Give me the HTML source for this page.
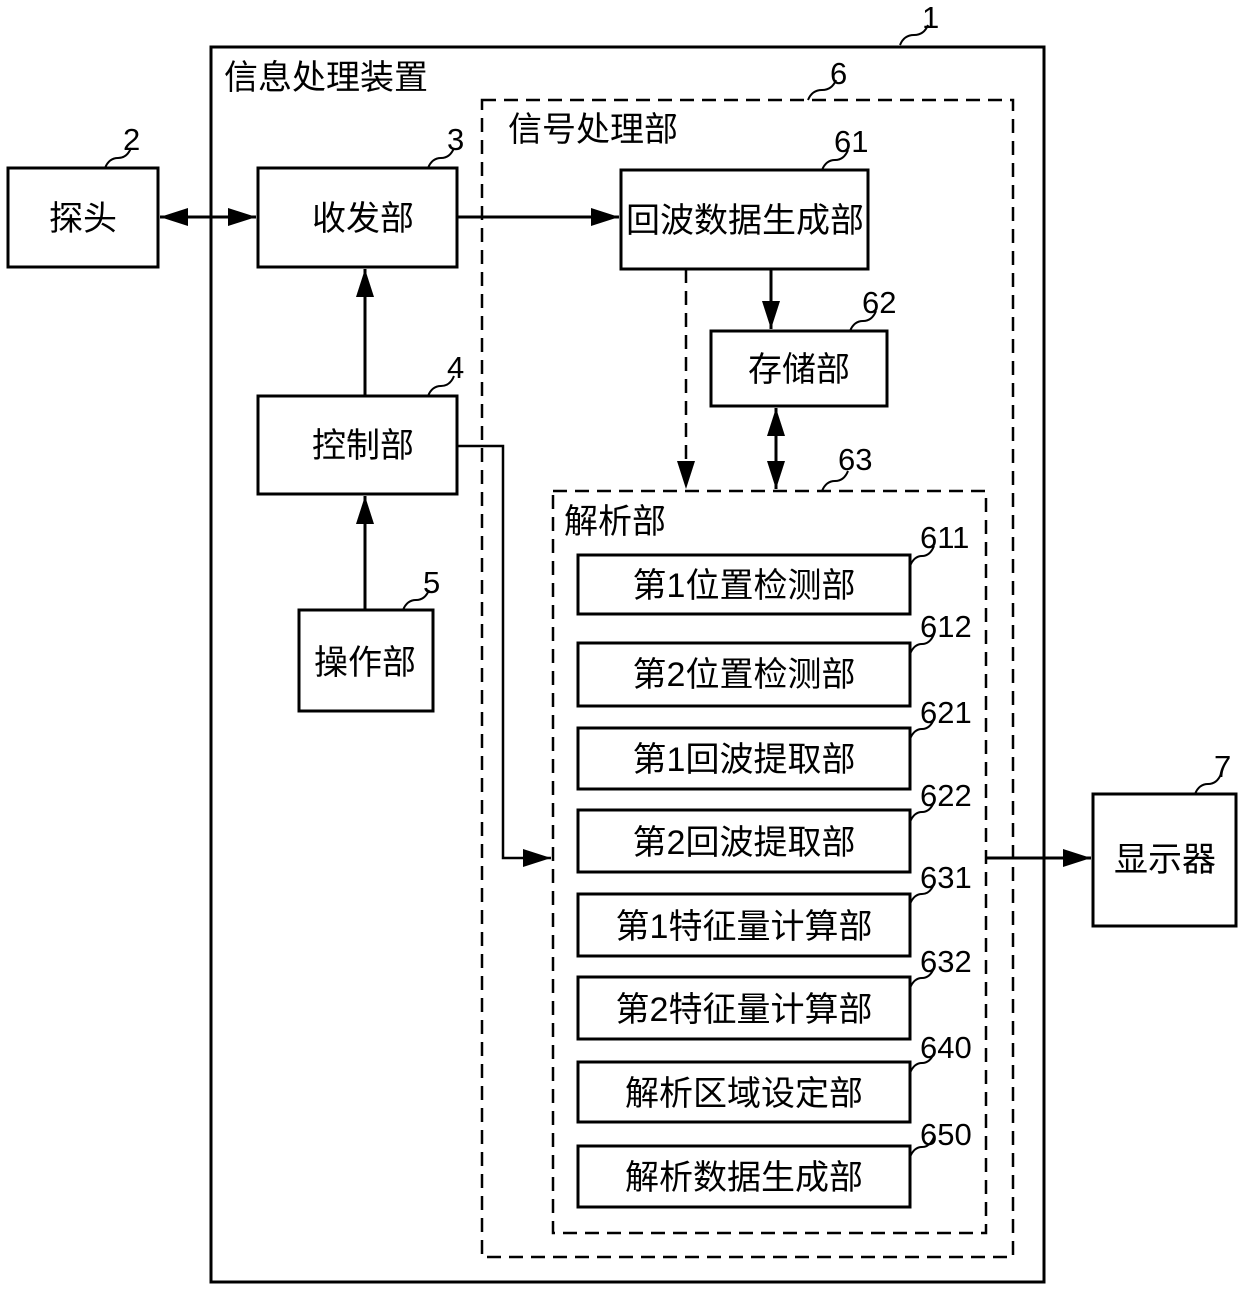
<!DOCTYPE html>
<html><head><meta charset="utf-8"><style>
body{margin:0;background:#fff}
svg text{font-family:"Liberation Sans","Noto Sans CJK SC",sans-serif;fill:#000}
</style></head><body>
<svg width="1240" height="1291" viewBox="0 0 1240 1291" xmlns="http://www.w3.org/2000/svg">
<defs>
<marker id="b" markerWidth="28" markerHeight="20" refX="28" refY="10" orient="auto-start-reverse" markerUnits="userSpaceOnUse" viewBox="0 0 28 20"><path d="M0,1 L28,10 L0,19z" fill="#000"/></marker></defs>
<g fill="none" stroke="#000" stroke-width="3">
<rect x="211" y="47" width="833" height="1235"/>
<rect x="482" y="100" width="531" height="1157" stroke-dasharray="14,8" stroke-width="2.5"/>
<rect x="553" y="491" width="433" height="742" stroke-dasharray="14,8" stroke-width="2.5"/>
<rect x="8" y="168" width="150" height="99"/>
<rect x="258" y="168" width="199" height="99"/>
<rect x="621" y="170" width="247" height="99"/>
<rect x="711" y="331" width="176" height="75"/>
<rect x="258" y="396" width="199" height="98"/>
<rect x="299" y="610" width="134" height="101"/>
<rect x="1093" y="794" width="143" height="132"/>
<rect x="578" y="555" width="332" height="59"/>
<rect x="578" y="643" width="332" height="63"/>
<rect x="578" y="728" width="332" height="61"/>
<rect x="578" y="810" width="332" height="62"/>
<rect x="578" y="894" width="332" height="62"/>
<rect x="578" y="977" width="332" height="62"/>
<rect x="578" y="1062" width="332" height="60"/>
<rect x="578" y="1146" width="332" height="61"/>
</g>
<g fill="none" stroke="#000" stroke-width="3">
<line x1="160" y1="217" x2="256" y2="217" marker-start="url(#b)" marker-end="url(#b)"/>
<line x1="457" y1="217" x2="619" y2="217" marker-end="url(#b)"/>
<line x1="771" y1="269" x2="771" y2="329" marker-end="url(#b)"/>
<line x1="776" y1="408" x2="776" y2="489" marker-start="url(#b)" marker-end="url(#b)"/>
<line x1="686" y1="269" x2="686" y2="489" stroke-dasharray="14,8" stroke-width="2.5" marker-end="url(#b)"/>
<line x1="365" y1="396" x2="365" y2="269" marker-end="url(#b)"/>
<line x1="365" y1="610" x2="365" y2="496" marker-end="url(#b)"/>
<polyline points="457,446 503,446 503,858 551,858" marker-end="url(#b)" stroke-width="2.5"/>
<line x1="986" y1="858" x2="1091" y2="858" marker-end="url(#b)"/>
</g>
<g fill="none" stroke="#000" stroke-width="2">
<path d="M900,45 q4,-10 14,-10 q10,0 14,-10"/>
<path d="M808,100 q4,-10 14,-10 q10,0 14,-10"/>
<path d="M105,168 q4,-10 13,-10 q9,0 13,-10"/>
<path d="M428,168 q4,-10 13,-10 q9,0 13,-10"/>
<path d="M822,170 q4,-10 13,-10 q9,0 13,-10"/>
<path d="M850,331 q4,-10 13,-10 q9,0 13,-10"/>
<path d="M428,396 q4,-10 13,-10 q9,0 13,-10"/>
<path d="M403,610 q4,-10 13,-10 q9,0 13,-10"/>
<path d="M822,491 q4,-10 13,-10 q9,0 13,-10"/>
<path d="M1195,794 q4,-10 13,-10 q9,0 13,-10"/>
<path d="M910,566 q4,-10 12,-10 q8,0 12,-10"/>
<path d="M910,654 q4,-10 12,-10 q8,0 12,-10"/>
<path d="M910,739 q4,-10 12,-10 q8,0 12,-10"/>
<path d="M910,822 q4,-10 12,-10 q8,0 12,-10"/>
<path d="M910,904 q4,-10 12,-10 q8,0 12,-10"/>
<path d="M910,988 q4,-10 12,-10 q8,0 12,-10"/>
<path d="M910,1073 q4,-10 12,-10 q8,0 12,-10"/>
<path d="M910,1157 q4,-10 12,-10 q8,0 12,-10"/>
</g>
<g font-size="34">
<text x="224" y="89">信息处理装置</text>
<text x="508" y="141">信号处理部</text>
<text x="83" y="230" text-anchor="middle">探头</text>
<text x="363" y="230" text-anchor="middle">收发部</text>
<text x="745" y="232" text-anchor="middle">回波数据生成部</text>
<text x="799" y="381" text-anchor="middle">存储部</text>
<text x="363" y="457" text-anchor="middle">控制部</text>
<text x="365" y="674" text-anchor="middle">操作部</text>
<text x="564" y="533">解析部</text>
<text x="1165" y="871" text-anchor="middle">显示器</text>
<text x="744" y="597" text-anchor="middle">第1位置检测部</text>
<text x="744" y="686" text-anchor="middle">第2位置检测部</text>
<text x="744" y="771" text-anchor="middle">第1回波提取部</text>
<text x="744" y="854" text-anchor="middle">第2回波提取部</text>
<text x="744" y="938" text-anchor="middle">第1特征量计算部</text>
<text x="744" y="1021" text-anchor="middle">第2特征量计算部</text>
<text x="744" y="1105" text-anchor="middle">解析区域设定部</text>
<text x="744" y="1189" text-anchor="middle">解析数据生成部</text>
</g>
<g font-size="31">
<text x="922" y="28">1</text>
<text x="830" y="84">6</text>
<text x="123" y="150">2</text>
<text x="447" y="150">3</text>
<text x="834" y="152">61</text>
<text x="862" y="313">62</text>
<text x="447" y="378">4</text>
<text x="423" y="593">5</text>
<text x="838" y="470">63</text>
<text x="1214" y="777">7</text>
<text x="920" y="548">611</text>
<text x="920" y="637">612</text>
<text x="920" y="723">621</text>
<text x="920" y="806">622</text>
<text x="920" y="888">631</text>
<text x="920" y="972">632</text>
<text x="920" y="1058">640</text>
<text x="920" y="1145">650</text>
</g>
</svg>
</body></html>
